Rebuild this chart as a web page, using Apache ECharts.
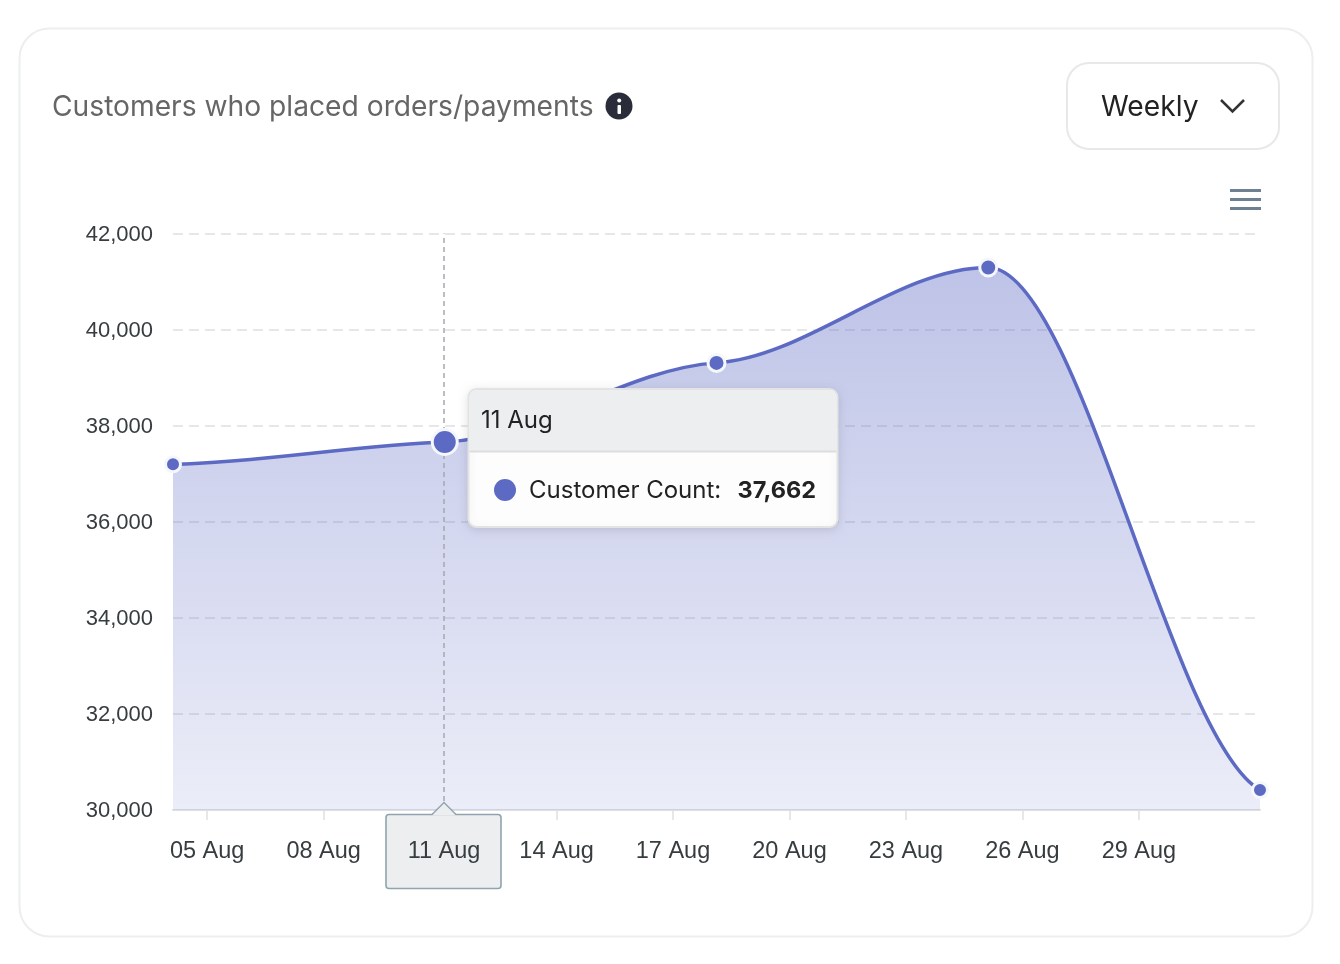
<!DOCTYPE html>
<html><head><meta charset="utf-8">
<style>html,body{margin:0;padding:0;background:#fff}#c{width:1340px;height:964px}</style>
<script src="https://cdn.jsdelivr.net/npm/echarts@6/dist/echarts.min.js"></script>
</head><body><div id="c"></div>
<script>
const dayPositions = [4.12, 11.12, 18.12, 25.12, 32.12];
const customerCounts = [37196, 37662, 39307, 41293, 30416];
const tickDays = [5, 8, 11, 14, 17, 20, 23, 26, 29];
const yTicks = [30000, 32000, 34000, 36000, 38000, 40000, 42000];
const monthLabel = 'Aug';
const titleText = 'Customers who placed orders/payments';
const rangeText = 'Weekly';
const seriesName = 'Customer Count';
const activeIndex = 1;
const activeLabel = '11 Aug';

const LINE = '#5c6ac4';
const INTER = 'Inter, sans-serif';
const HELV = '"Liberation Sans", Arial, sans-serif';
const chart = echarts.init(document.getElementById('c'), null, {renderer: 'canvas'});
const fmt = v => v.toLocaleString('en-US');
const seriesData = dayPositions.map((d,i)=>[d,customerCounts[i]]);

// Cubic path through the data, in pixels obtained from the chart's scales.
function curvePath(api){
  const p = seriesData.map(d=>api.coord(d));
  const n = p.length, s = [], m = [];
  for(let i=0;i<n-1;i++) s.push((p[i+1][1]-p[i][1])/(p[i+1][0]-p[i][0]));
  for(let i=0;i<n;i++){
    if(i===0) m.push(s[0]*0.3);
    else if(i===n-1) m.push(s[n-2]*0.3);
    else m.push(s[i-1]*s[i]<=0?0:(s[i-1]+s[i])/2*0.2);
  }
  let d = 'M'+p[0][0]+' '+p[0][1];
  for(let i=0;i<n-1;i++){
    const h=(p[i+1][0]-p[i][0])/3;
    d += ' C'+(p[i][0]+h)+' '+(p[i][1]+m[i]*h)+' '+(p[i+1][0]-h)+' '+(p[i+1][1]-m[i+1]*h)+' '+p[i+1][0]+' '+p[i+1][1];
  }
  return {d, first:p[0], last:p[n-1]};
}

const chrome = [
  {type:'rect', z:0, shape:{x:19.5,y:28.5,width:1293,height:908,r:30}, style:{fill:'#fff',stroke:'#eceef0',lineWidth:2}},
  {type:'text', z:1, style:{x:52,y:108,text:titleText,font:'400 28.2px '+INTER,fill:'#666666',textVerticalAlign:'middle'}},
  {type:'circle', z:1, shape:{cx:619,cy:106,r:13.5}, style:{fill:'#2a2d39'}},
  {type:'rect', z:2, shape:{x:617.5,y:105,width:3.5,height:9,r:1}, style:{fill:'#fff'}},
  {type:'circle', z:2, shape:{cx:619.2,cy:100.5,r:2}, style:{fill:'#fff'}},
  {type:'rect', z:1, shape:{x:1067,y:63,width:212,height:86,r:22}, style:{fill:'#fff',stroke:'#e8e8ea',lineWidth:2}},
  {type:'text', z:1, style:{x:1101,y:108,text:rangeText,font:'400 28.2px '+INTER,fill:'#222222',textVerticalAlign:'middle'}},
  {type:'polyline', z:1, shape:{points:[[1221,100],[1232.5,111.5],[1244,100]]}, style:{fill:'none',stroke:'#333333',lineWidth:2.5}},
  {type:'rect', z:1, shape:{x:1230,y:189,width:31,height:3}, style:{fill:'#6e8192'}},
  {type:'rect', z:1, shape:{x:1230,y:198,width:31,height:3}, style:{fill:'#6e8192'}},
  {type:'rect', z:1, shape:{x:1230,y:207,width:31,height:3}, style:{fill:'#6e8192'}}
];
const overlay = [
  {type:'rect', z:50, shape:{x:386,y:814.5,width:115,height:74,r:3}, style:{fill:'#eceef0',stroke:'#90a4ae',lineWidth:1.6}},
  {type:'polygon', z:51, shape:{points:[[432,815.5],[444,802.5],[456,815.5]]}, style:{fill:'#eceef0'}},
  {type:'polyline', z:52, shape:{points:[[432,814.5],[444,802.5],[456,814.5]]}, style:{fill:'none',stroke:'#90a4ae',lineWidth:1.4}},
  {type:'text', z:52, style:{x:444,y:852,text:activeLabel,font:'23.5px '+HELV,fill:'#373d3f',textAlign:'center',textVerticalAlign:'middle'}},
  {type:'rect', z:60, shape:{x:468.5,y:389,width:369,height:138,r:8}, style:{fill:'#fdfdfd',stroke:'#e3e3e3',lineWidth:2,shadowBlur:10,shadowColor:'rgba(0,0,0,0.10)',shadowOffsetY:2}},
  {type:'rect', z:61, shape:{x:469.5,y:390,width:367,height:61,r:[7,7,0,0]}, style:{fill:'#eceef0'}},
  {type:'rect', z:61, shape:{x:469.5,y:450.5,width:367,height:2}, style:{fill:'#dddddd'}},
  {type:'text', z:62, style:{x:481,y:421,text:activeLabel,font:'400 24px '+INTER,fill:'#222222',textVerticalAlign:'middle'}},
  {type:'circle', z:62, shape:{cx:505,cy:490,r:11}, style:{fill:LINE}},
  {type:'text', z:62, style:{x:529,y:491,text:seriesName+':',font:'400 24px '+INTER,fill:'#222222',textVerticalAlign:'middle'}},
  {type:'text', z:62, style:{x:816,y:491,text:fmt(customerCounts[activeIndex]),font:'700 23.5px '+INTER,fill:'#222222',textAlign:'right',textVerticalAlign:'middle'}}
];

chart.setOption({
  animation:false,
  backgroundColor:'#ffffff',
  grid:{left:173,top:233.5,width:1087,height:576.5,containLabel:false},
  xAxis:{
    type:'value', min:dayPositions[0], max:dayPositions[dayPositions.length-1],
    axisLine:{show:true,onZero:false,lineStyle:{color:'#dfe0e4',width:2}},
    axisTick:{show:true,customValues:tickDays,length:10,lineStyle:{color:'#dfe0e4',width:1.5}},
    splitLine:{show:false},
    axisLabel:{show:true,customValues:tickDays,margin:30,
      formatter:v=>String(Math.round(v)).padStart(2,'0')+' '+monthLabel,
      color:'#373d3f',fontFamily:HELV,fontSize:23.5}
  },
  yAxis:{
    type:'value', min:yTicks[0], max:yTicks[yTicks.length-1], interval:yTicks[1]-yTicks[0],
    axisLine:{show:false},axisTick:{show:false},
    splitLine:{show:true,lineStyle:{color:'#dfe0e4',type:[10,6],width:1.5}},
    axisLabel:{margin:20,verticalAlign:'top',lineHeight:2,formatter:v=>fmt(v),color:'#373d3f',fontFamily:HELV,fontSize:22}
  },
  series:[
    {
      type:'custom', name:seriesName+' curve', z:4, silent:true, clip:false,
      coordinateSystem:'cartesian2d', data:seriesData,
      renderItem:(params,api)=>{
        if(params.dataIndex!==0) return null;
        const c = curvePath(api);
        const base = api.coord([dayPositions[0],yTicks[0]])[1];
        return {type:'group',children:[
          {type:'path',shape:{pathData:c.d+' L'+c.last[0]+' '+base+' L'+c.first[0]+' '+base+' Z'},
            style:{stroke:null,fill:new echarts.graphic.LinearGradient(0,0,0,1,[
              {offset:0,color:'rgba(92,106,196,0.40)'},{offset:1,color:'rgba(92,106,196,0.12)'}])}},
          {type:'path',shape:{pathData:c.d},style:{fill:null,stroke:LINE,lineWidth:3.5}}
        ]};
      }
    },
    {
      type:'line', name:seriesName, z:5,
      data:seriesData.map((v,i)=>({value:v,symbolSize:i===activeIndex?25:(i===0||i===4?15:17)})),
      showSymbol:true, symbol:'circle', clip:false,
      lineStyle:{width:0,opacity:0},
      itemStyle:{color:LINE,borderColor:'#f6f7fc',borderWidth:3,opacity:1},
      markLine:{silent:true,symbol:'none',label:{show:false},animation:false,
        lineStyle:{color:'#a5a8b0',type:[5,4],width:1.5},
        data:[{xAxis:dayPositions[activeIndex]-0.02}]}
    }
  ],
  graphic:{elements:chrome.concat(overlay)}
});
</script></body></html>
